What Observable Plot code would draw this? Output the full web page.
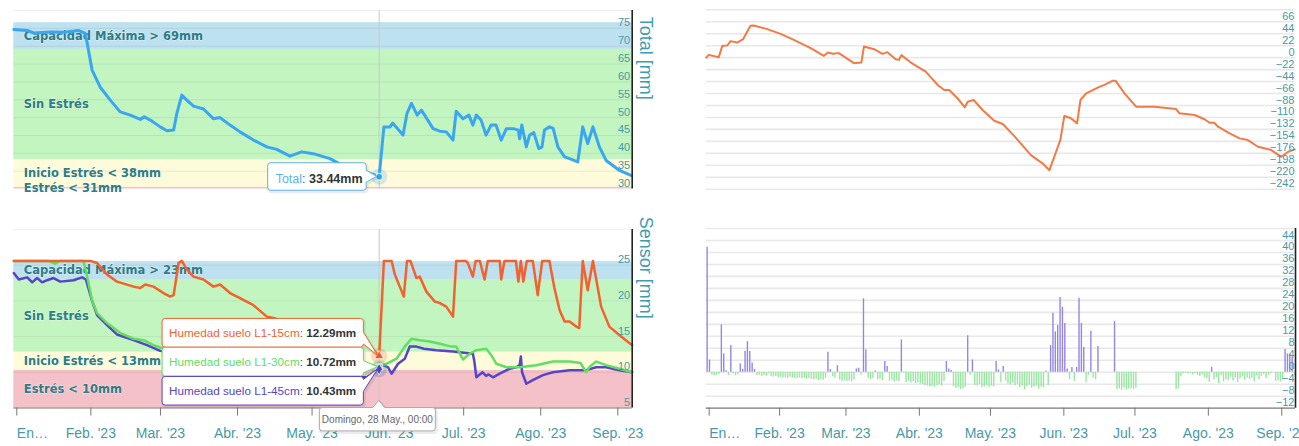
<!DOCTYPE html>
<html><head><meta charset="utf-8">
<script src="https://cdn.jsdelivr.net/npm/d3@7"></script>
<script src="https://cdn.jsdelivr.net/npm/@observablehq/plot@0.6"></script>
<style>
html,body{margin:0;padding:0;background:#fff;}
#wrap{position:relative;width:1299px;height:446px;overflow:hidden;background:#fff;}
</style></head><body><div id="wrap"></div>
<script>
// ---------- DATA ----------
const START = Date.UTC(2023, 0, 1);
const DAY = 86400000;
const day = d => new Date(START + d * DAY);
const X_END_DAY = 248.8;
const TOOLTIP_DAY = 147; // Domingo, 28 May
const tooltipDate = "Domingo, 28 May., 00:00";

const monthStartDays = [0, 31, 59, 90, 120, 151, 181, 212, 243];
const monthLabels = ["En…", "Feb. '23", "Mar. '23", "Abr. '23", "May. '23", "Jun. '23", "Jul. '23", "Ago. '23", "Sep. '23"];

// Top-left: Total [mm]
const totalDays = [0,5.4,8,15,20,26,28.8,31.5,34.8,38.8,42.8,46.9,50.9,52.5,54.9,58.9,61.6,64.3,65.6,67.6,69.6,72.3,76.3,80.3,83,87,91,96.4,101.8,105.8,111.1,115.8,120.5,127.2,131,142,147,148.9,151.4,152.4,156.6,158.2,160,162.3,164,168.7,171.4,174,176.7,178,180.7,183.1,184.7,186.1,188,190,192,194,196.1,198.2,201,203,203.5,204.4,206.2,207.5,209.2,211.2,212.5,213.5,215.5,217,218.9,221.6,223.6,226.9,228.9,230.9,233,235.6,238.3,243.7,248.3];
const totalMm = [74.7,74.4,73.7,74.0,73.9,74.4,73.6,63.3,58.5,54.9,51.6,50.7,49.5,50.2,49.3,47.4,46.3,46.5,51.2,56.3,54.9,53.2,52.4,49.7,50.0,47.9,46.0,43.7,41.8,41.1,39.2,40.4,39.9,38.5,37.1,34.7,33.44,47.4,47.4,48.5,45.1,51.2,54.0,50.7,52.1,46.9,46.2,46.0,43.7,51.8,49.7,50.7,47.9,50.7,49.3,45.1,47.9,47.9,43.7,46.9,46.9,46.5,44.1,47.9,41.8,45.1,45.8,41.3,41.8,46.5,47.4,47.0,41.8,39.0,38.5,37.6,47.4,42.7,47.4,41.8,38.0,35.2,33.8];
const totalTicks = [30,35,40,45,50,55,60,65,70,75];
const totalGrid = [35,40,45,50,55,60,65,70,75,80];
const totalDomain = [30, 80];
const totalBandLow = [69.1, 38.2, 30.45, 30];
const totalBandHigh = [76.6, 69.1, 38.2, 30.45];
const totalBandLabels = ["Capacidad Máxima > 69mm", "Sin Estrés", "Inicio Estrés < 38mm", "Estrés < 31mm"];
const tooltipTotal = 33.44;

// Bottom-left: Sensor [mm]
const s15Days = [0,30.8,33.5,37.5,41.5,48.2,50.9,52.9,56.2,60.2,62.9,64.3,66.3,67.6,69.6,72.3,76.3,80.3,83,87,91,96.4,101.8,104.4,115,125,135,141.9,147,148.9,152,153.3,155.3,156.9,158.2,159.6,162,163.3,166,169.4,171.4,174,176.7,178,182,182.8,184.7,185.8,187.5,189.4,190.7,195.5,196.1,197.4,202,203,204,205,206.4,208.8,210.8,212.6,215.5,217.5,219.6,221.6,223.6,226.3,227.5,228.9,230.9,233,236.3,239.6,243.7,248.8];
const s15 = [25.6,25.6,25.3,23.7,22.7,22.0,21.8,22.3,22.0,21.1,20.6,20.8,25.3,25.6,24.4,23.4,23.0,22.0,22.3,21.1,20.4,19.4,17.8,17.6,16.5,15.6,14.8,14.0,12.29,25.6,25.6,23.7,22.0,20.6,25.6,25.6,23.2,23.4,21.3,19.9,19.7,19.2,17.8,25.6,25.6,25.2,23.4,25.6,25.6,23.0,25.6,25.6,23.0,25.6,25.6,22.7,25.6,22.7,25.6,25.6,20.8,25.6,25.6,21.8,18.7,17.1,17.1,16.4,16.2,25.6,21.5,25.6,19.2,16.4,15.2,13.8];
const s30Days = [0,14,16.7,18.5,28,29.5,31.5,33.5,37.5,42.9,48.2,52.2,56.2,60.2,80,100,120,141.9,147,150,154,157.3,160,163.3,167.3,171.4,176.1,178,180.7,183.4,186.1,190.1,192.1,194.1,198.2,203.5,210.2,216.9,223.6,228,230.3,231.5,234.3,238.3,243.7,248.8];
const s30 = [25.6,25.6,25.2,25.6,25.6,23.4,20.1,18.3,16.9,15.5,14.7,14.5,13.8,13.3,12.6,12.1,11.8,11.2,10.72,11.2,11.9,13.6,14.7,14.5,14.3,14.0,13.6,13.6,11.8,12.6,13.1,13.3,12.4,11.2,10.7,10.7,11.0,11.5,11.5,11.3,10.0,10.7,11.5,11.0,10.5,10.0];
const s45Days = [0,2,5.4,7.4,9.4,11.4,13.4,16,18.7,24,27.5,29,31.5,33.5,37.5,41.5,48.2,53.6,58.9,80,100,120,135,142,147,148.6,150.6,152,154.6,157.3,159.3,162,165,170,176.7,184.7,185.3,186.1,188.6,190,191,192.8,195.5,199.5,202.2,203.5,204,204.5,206.2,208.8,212.9,216.9,223.6,230.3,234.3,238.3,243.7,248.8];
const s45 = [23.9,23.0,23.3,22.6,23.2,22.6,22.9,23.2,22.7,22.9,23.3,23.0,20.0,18.0,16.6,15.3,14.5,13.8,13.0,11.8,10.9,10.2,9.3,9.3,10.43,11.0,10.7,9.8,11.2,11.9,13.6,13.6,13.3,13.1,12.9,12.6,11.5,9.3,10.0,9.5,9.7,9.3,9.8,10.5,10.7,11.0,12.2,10.0,8.4,8.9,9.6,10.0,10.3,10.3,10.7,10.7,10.3,10.0];
const sensorNames = ["Humedad suelo L1-15cm", "Humedad suelo L1-30cm", "Humedad suelo L1-45cm"];
const tooltipSensor = [12.29, 10.72, 10.43];
const sensorTicks = [5,10,15,20,25];
const sensorGrid = [10,15,20,25,30];
const sensorDomain = [5, 30];
const sensorBandLow = [23.0, 12.8, 10.25, 5];
const sensorBandHigh = [25.5, 23.0, 12.8, 10.25];
const sensorBandLabels = ["Capacidad Máxima > 23mm", "Sin Estrés", "Inicio Estrés < 13mm", "Estrés < 10mm"];

// Top-right: cumulative balance
const balanceDays = [0,1.1,5.3,6.8,8.9,10.3,13.1,15.6,18.7,20.1,25.8,31.4,37,44.1,49.7,51.4,53.5,56,62.4,65.5,66.6,70.9,74.4,76.5,80,81.4,82.4,86.4,92.7,97.7,100.5,102.6,106.1,109.2,110.4,112.9,116.7,121.6,125.2,130.1,137.1,142,144.9,147.7,149.5,151.2,154,156.6,158,160.4,165.3,168.1,171.7,172.8,176.6,181.5,189.3,198.4,199.8,206.2,210.4,212.5,214.5,216.1,221,225.2,228.7,233,238.6,242.8,245.7,248.5];
const balanceMm = [0,5.1,0.9,21.7,22.3,30.4,27.8,34.1,58.6,59.2,52.5,43.8,32.8,17.5,3.3,9.4,7.0,8.3,-10.2,-9.1,20.4,15.6,7.0,10.1,-2.8,-4.1,4.6,-9.1,-25.7,-50.2,-59.4,-59.4,-74.7,-91.3,-81.0,-77.9,-96.3,-116.1,-122.1,-144.3,-179.4,-194.4,-207.0,-173.2,-151.6,-107.4,-111.6,-120.9,-77.9,-65.6,-55.2,-50.2,-42.3,-42.3,-65.6,-90.2,-90.2,-94.5,-102.4,-105.5,-113.4,-119.7,-119.7,-127.1,-139.3,-148.5,-151.6,-163.9,-170,-182.4,-173.2,-168.8];
const balanceTicks = [66,44,22,0,-22,-44,-66,-88,-110,-132,-154,-176,-198,-220,-242];
const balanceGrid = [88,66,44,22,0,-22,-44,-66,-88,-110,-132,-154,-176,-198,-220,-242];
const balanceDomain = [-242, 88];

// Bottom-right: daily balance (day 0 = 1 Jan), positive = purple, negative = green
const dailyBalance = [
  41.7, 4.1, -1.0, -1.2, -1.0, -0.8, 15.8, 6.1, 0.5, -1.1,
  8.9, -0.6, -1.2, -0.9, 2.8, 1.0, 7.0, 10.2, 6.9, 3.1,
  0.9, -1.1, -1.0, -1.4, -1.2, -1.3, -0.4, -1.5, -1.6, -1.4,
  -1.8, -1.7, -1.9, -1.8, -2.0, -1.7, -1.9, -2.0, -2.1, -1.9,
  -2.2, -2.0, -2.3, -2.1, -2.4, -2.6, -2.3, -2.8, -2.5, -2.7,
  -2.0, 6.7, 0.9, -1.5, -2.0, 2.2, -2.7, -3.0, -2.8, -3.1,
  -2.9, -3.2, -2.6, 1.1, 1.3, -1.0, 24.5, 7.5, -2.0, -2.4,
  -2.2, 0.4, -2.6, -2.3, -2.8, 3.6, 1.9, -3.0, -2.7, -3.3,
  -2.9, -3.1, 10.8, -0.3, -3.4, -3.0, -3.6, -3.2, -3.8, -3.5,
  -3.9, -4.1, -4.4, -4.6, -4.9, -4.7, -5.0, -4.4, -4.2, -4.6,
  -3.0, 3.6, 1.1, 0.6, -4.8, -5.4, -5.1, -5.7, -5.5, -5.0,
  12.2, -1.0, 4.1, -4.3, -4.6, -4.1, -5.1, -4.8, -4.4, -5.0,
  -4.6, -4.9, 3.6, 0.8, -3.5, 1.9, -3.0, -3.9, -4.2, -3.6,
  -4.5, -4.0, -5.1, -4.6, -5.8, -4.8, -4.2, -5.3, -4.9, -4.5,
  -5.6, -4.9, -5.2, 0.4, -4.4, 8.9, 19.7, 13.5, 15.6, 25.0,
  21.7, 16.3, 1.1, -2.5, 1.6, -3.0, 1.6, 24.7, 16.3, 8.3,
  -3.5, -1.0, 13.7, -2.0, -2.5, 8.6, null, null, null, null,
  null, null, 16.9, -5.8, -5.5, -6.0, -5.2, -5.9, -5.6, -5.4,
  -5.8, -5.3, null, null, null, null, null, null, null, null,
  null, null, null, null, null, null, null, null, -5.8, -5.5,
  -1.5, -0.5, -0.4, -0.6, -0.3, -0.8, -0.5, -1.0, -1.4, -0.9,
  -1.8, -2.2, -3.3, 1.6, -2.6, -1.8, -3.8, -1.2, -3.2, -2.5,
  -2.8, -1.6, -2.9, -2.0, -3.4, -2.2, -1.5, -2.7, -1.9, -2.4,
  -2.0, -3.1, -1.2, -2.6, -1.4, -0.8, -2.2, -1.0, -0.6, null,
  -3.0, -2.8, -3.2, -2.6, 7.6, 6.1, 6.1, 5.0, -1.0
];
const dailyTicks = [44,40,36,32,28,24,20,16,12,8,4,0,-4,-8,-12];
const dailyGrid = [48,44,40,36,32,28,24,20,16,12,8,4,0,-4,-8];
const dailyDomain = [-12, 48];

// ---------- STYLE ----------
const bandColors = ["#bee1ef", "#c3f5c0", "#fdfbd9", "#f4c1c8"];
const TEAL = "#4699a6";
const BAND_TEXT = "#2d7c86";
const FONT = "'Liberation Sans', Arial, sans-serif";
const C_TOTAL = "#3aa6f1", C15 = "#f2622e", C30 = "#62de62", C45 = "#5844c8";
const C_BAL = "#f27a46", C_POS = "#9486e4", C_NEG = "#98e6a0";

const xDomain = [day(0), day(X_END_DAY)];
const tipDate = day(TOOLTIP_DAY);
const monthDates = monthStartDays.map(day);
const fmtMonth = d => monthLabels[d.getUTCMonth()];

const wrap = document.getElementById("wrap");
function place(node, left, top) {
  node.style.position = "absolute";
  node.style.left = left + "px";
  node.style.top = top + "px";
  wrap.appendChild(node);
}
const series = (days, vals) => days.map((d, i) => ({date: day(d), v: vals[i]}));
const bandTable = (lo, hi, labels) => labels.map((label, i) => ({label, lo: lo[i], hi: hi[i], mid: (lo[i] + hi[i]) / 2, color: bandColors[i], x1: xDomain[0], x2: xDomain[1]}));

function renderMark(fn) {
  return function(...args) {
    const scales = args.find(a => a && typeof a.x === "function" && typeof a.y === "function");
    return fn(scales);
  };
}
function rightCallout(l, t, w, h, ax, ay) {
  const r = 3, R = l + w, B = t + h;
  const cy = Math.max(t + r + 6, Math.min(B - r - 6, ay));
  return `M${l+r},${t}H${R-r}Q${R},${t} ${R},${t+r}V${cy-6}L${ax},${ay}L${R},${cy+6}V${B-r}Q${R},${B} ${R-r},${B}H${l+r}Q${l},${B} ${l},${B-r}V${t+r}Q${l},${t} ${l+r},${t}Z`;
}
function topCallout(l, t, w, h, ax, ay) {
  const r = 3, R = l + w, B = t + h;
  return `M${l+r},${t}H${ax-6}L${ax},${ay}L${ax+6},${t}H${R-r}Q${R},${t} ${R},${t+r}V${B-r}Q${R},${B} ${R-r},${B}H${l+r}Q${l},${B} ${l},${B-r}V${t+r}Q${l},${t} ${l+r},${t}Z`;
}
function drawBox(g, d, stroke) {
  g.append("path").attr("d", d).attr("transform", "translate(1,1.5)").attr("fill", "none").attr("stroke", "#000").attr("stroke-opacity", 0.08).attr("stroke-width", 3);
  g.append("path").attr("d", d).attr("fill", "#fff").attr("stroke", stroke).attr("stroke-width", 1);
}

const bandTextOpts = {textAnchor: "start", dx: 10, fill: BAND_TEXT, fontWeight: "bold", fontSize: 11.5, fontFamily: "'DejaVu Sans', Verdana, sans-serif", stroke: "#fff", strokeOpacity: 0.35, strokeWidth: 1.5, paintOrder: "stroke"};
const yLabelOpts = {anchor: "right", tickSize: 0, tickPadding: 0, textAnchor: "end", dx: -2, dy: -5.5, fill: TEAL, fontSize: 11, label: null};

// ---------- TOP-LEFT ----------
const tlBands = bandTable(totalBandLow, totalBandHigh, totalBandLabels);
const tl = Plot.plot({
  width: 660, height: 200,
  marginLeft: 13.3, marginRight: 28.3, marginTop: 10, marginBottom: 11.5,
  style: {fontFamily: FONT, background: "transparent"},
  color: {type: "identity"},
  x: {type: "utc", domain: xDomain, axis: null},
  y: {domain: totalDomain, axis: null},
  marks: [
    Plot.rect(tlBands, {x1: "x1", x2: "x2", y1: "lo", y2: "hi", fill: "color"}),
    Plot.gridY(totalGrid, {stroke: "#000", strokeOpacity: 0.07, strokeWidth: 1}),
    Plot.text(tlBands, {x: "x1", y: "mid", text: "label", ...bandTextOpts}),
    Plot.ruleX([tipDate], {stroke: "#c9c9c9", strokeWidth: 1}),
    Plot.line(series(totalDays, totalMm), {x: "date", y: "v", stroke: C_TOTAL, strokeWidth: 3}),
    Plot.ruleX([xDomain[1]], {stroke: "#222", strokeWidth: 1.6}),
    Plot.axisY(totalTicks, yLabelOpts),
    Plot.text(["Total [mm]"], {frameAnchor: "right", rotate: 90, dx: 13.5, fontSize: 18, fill: "#3b9db3", text: d => d}),
    Plot.dot([{date: tipDate, v: tooltipTotal}], {x: "date", y: "v", r: 8, fill: C_TOTAL, fillOpacity: 0.22}),
    Plot.dot([{date: tipDate, v: tooltipTotal}], {x: "date", y: "v", r: 3.5, fill: C_TOTAL, stroke: "#fff", strokeWidth: 1}),
    renderMark(({x, y}) => {
      const px = x(tipDate), py = y(tooltipTotal);
      const g = d3.create("svg:g");
      const l = px - 111, t = py - 13.5, w = 98.5, h = 27.5;
      drawBox(g, rightCallout(l, t, w, h, px - 2, py), "#5ab2f2");
      const txt = g.append("text").attr("x", l + 8).attr("y", py + 6.5).attr("text-anchor", "start").attr("font-size", 12.5).attr("font-family", FONT);
      txt.append("tspan").attr("fill", "#5ab2f2").text("Total");
      txt.append("tspan").attr("fill", "#555").text(": ");
      txt.append("tspan").attr("fill", "#333").attr("font-weight", "bold").text(tooltipTotal.toFixed(2) + "mm");
      return g.node();
    })
  ]
});
place(tl, 0, 0);

// ---------- BOTTOM-LEFT ----------
const blBands = bandTable(sensorBandLow, sensorBandHigh, sensorBandLabels);
const sensorColors = [C15, C30, C45];
const sensorSymbols = ["triangle", "square", "diamond"];
const tipPoints = tooltipSensor.map((v, i) => ({date: tipDate, v, color: sensorColors[i], symbol: sensorSymbols[i]}));
const bl = Plot.plot({
  width: 660, height: 231,
  marginLeft: 13.3, marginRight: 28.3, marginTop: 14, marginBottom: 38.5,
  style: {fontFamily: FONT, background: "transparent"},
  color: {type: "identity"},
  symbol: {type: "identity"},
  x: {type: "utc", domain: xDomain, axis: null},
  y: {domain: sensorDomain, axis: null},
  marks: [
    Plot.rect(blBands, {x1: "x1", x2: "x2", y1: "lo", y2: "hi", fill: "color"}),
    Plot.gridY(sensorGrid, {stroke: "#000", strokeOpacity: 0.06, strokeWidth: 1}),
    Plot.text(blBands, {x: "x1", y: "mid", text: "label", ...bandTextOpts}),
    Plot.ruleX([tipDate], {stroke: "#c9c9c9", strokeWidth: 1}),
    Plot.line(series(s45Days, s45), {x: "date", y: "v", stroke: C45, strokeWidth: 2.5}),
    Plot.line(series(s30Days, s30), {x: "date", y: "v", stroke: C30, strokeWidth: 2.5}),
    Plot.line(series(s15Days, s15), {x: "date", y: "v", stroke: C15, strokeWidth: 2.5}),
    Plot.ruleX([xDomain[1]], {stroke: "#222", strokeWidth: 1.6}),
    Plot.ruleY([sensorDomain[0]], {stroke: "#777", strokeWidth: 1.2}),
    Plot.axisX(monthDates.slice(1), {tickSize: 8, tickPadding: 12, stroke: "#777", fill: TEAL, fontSize: 14, tickFormat: fmtMonth, label: null}),
    Plot.axisX(monthDates.slice(0, 1), {tickSize: 8, tickPadding: 12, stroke: "#777", fill: TEAL, fontSize: 14, textAnchor: "start", dx: 3, tickFormat: fmtMonth, label: null}),
    Plot.axisY(sensorTicks, yLabelOpts),
    Plot.text(["Sensor [mm]"], {frameAnchor: "right", rotate: 90, dx: 13.5, fontSize: 18, fill: "#3b9db3", text: d => d}),
    Plot.dot(tipPoints, {x: "date", y: "v", r: 8, fill: "color", fillOpacity: 0.22}),
    Plot.dot(tipPoints, {x: "date", y: "v", r: 3.5, fill: "color", symbol: "symbol", stroke: "#fff", strokeWidth: 0.8}),
    renderMark(({x, y}) => {
      const px = x(tipDate);
      const g = d3.create("svg:g");
      const l = px - 216.6, w = 201.3, h = 28.6;
      const start = y(tooltipSensor[0]) - 37;
      tooltipSensor.forEach((v, i) => {
        const t = start + i * 29;
        drawBox(g, rightCallout(l, t, w, h, px - 1, y(v)), sensorColors[i]);
        const txt = g.append("text").attr("x", l + 7).attr("y", t + 19).attr("text-anchor", "start").attr("font-size", 11.7).attr("font-family", FONT);
        txt.append("tspan").attr("fill", sensorColors[i]).text(sensorNames[i]);
        txt.append("tspan").attr("fill", "#555").text(": ");
        txt.append("tspan").attr("fill", "#333").attr("font-weight", "bold").text(v.toFixed(2) + "mm");
      });
      const bt = y(sensorDomain[0]);
      drawBox(g, topCallout(px - 59.3, bt, 116, 23.4, px, bt - 7), "#aaa");
      g.append("text").attr("x", px - 1.3).attr("y", bt + 15.5).attr("text-anchor", "middle").attr("font-size", 10).attr("font-family", FONT).attr("fill", "#666").text(tooltipDate);
      return g.node();
    })
  ]
});
place(bl, 0, 215);

// ---------- TOP-RIGHT ----------
const tr = Plot.plot({
  width: 609, height: 200,
  marginLeft: 15.7, marginRight: 4, marginTop: 9.3, marginBottom: 11.3,
  style: {fontFamily: FONT, background: "transparent"},
  x: {type: "utc", domain: xDomain, axis: null},
  y: {domain: balanceDomain, axis: null},
  marks: [
    Plot.gridY(balanceGrid, {stroke: "#e8e8e8", strokeOpacity: 1, strokeWidth: 1.6}),
    Plot.line(series(balanceDays, balanceMm), {x: "date", y: "v", stroke: C_BAL, strokeWidth: 2}),
    Plot.axisY(balanceTicks, {...yLabelOpts, dx: -1})
  ]
});
place(tr, 690, 0);

// ---------- BOTTOM-RIGHT ----------
const bars = dailyBalance.map((v, i) => ({date: day(i + 0.4), v})).filter(d => d.v != null);
const br = Plot.plot({
  width: 609, height: 231,
  marginLeft: 15.7, marginRight: 4, marginTop: 13, marginBottom: 38.3,
  style: {fontFamily: FONT, background: "transparent"},
  color: {type: "identity"},
  x: {type: "utc", domain: xDomain, axis: null},
  y: {domain: dailyDomain, axis: null},
  marks: [
    Plot.gridY(dailyGrid, {stroke: "#e8e8e8", strokeOpacity: 1, strokeWidth: 1.6}),
    Plot.ruleX(bars, {x: "date", y1: 0, y2: "v", stroke: d => d.v > 0 ? C_POS : C_NEG, strokeWidth: 1.4}),
    Plot.ruleY([dailyDomain[0]], {stroke: "#777", strokeWidth: 1.2}),
    Plot.ruleX([xDomain[1]], {stroke: "#222", strokeWidth: 1.6}),
    Plot.axisX(monthDates.slice(1), {tickSize: 8, tickPadding: 12, stroke: "#777", fill: TEAL, fontSize: 14, tickFormat: fmtMonth, label: null}),
    Plot.axisX(monthDates.slice(0, 1), {tickSize: 8, tickPadding: 12, stroke: "#777", fill: TEAL, fontSize: 14, textAnchor: "start", dx: 3, tickFormat: fmtMonth, label: null}),
    Plot.axisY(dailyTicks, {...yLabelOpts, dx: -1})
  ]
});
place(br, 690, 215);
</script></body></html>
